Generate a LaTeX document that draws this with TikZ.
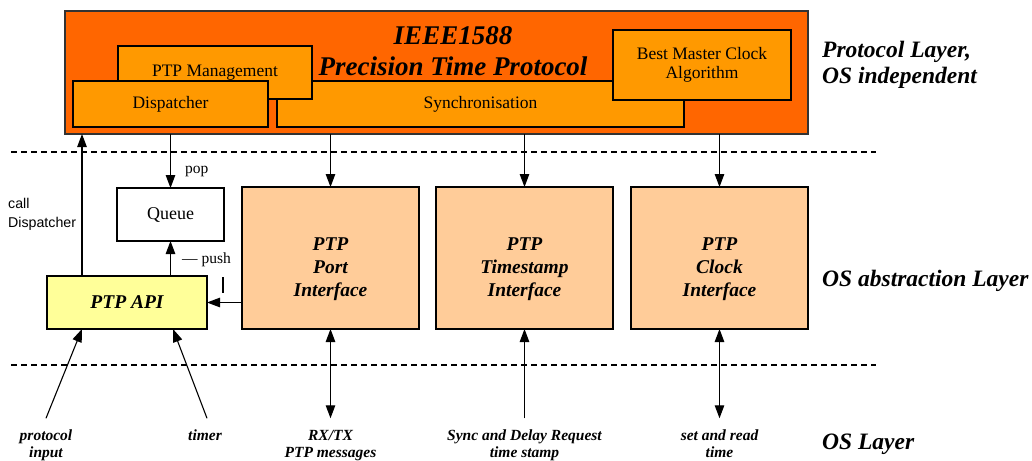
\documentclass[tikz,border=0pt]{standalone}
\usepackage{fontspec}
\setmainfont{Liberation Serif}
\newfontfamily\arialfont{Liberation Sans}
\usetikzlibrary{arrows.meta,calc}
\definecolor{orangeD}{HTML}{FF6600}
\definecolor{orangeL}{HTML}{FF9900}
\definecolor{peach}{HTML}{FFCC99}
\definecolor{lyellow}{HTML}{FFFF99}
\newcommand{\fsz}[2]{\fontsize{#1}{#2}\selectfont}
\begin{document}
\begin{tikzpicture}[x=1pt,y=-1pt,
  blk/.style={draw=black, line width=1.1pt, inner sep=0pt, outer sep=0pt},
  rtext/.style={font=\fsz{17.5}{19.5}, align=center},
  bitext/.style={font=\bfseries\itshape\fsz{19.5}{23}, align=center, inner sep=0pt},
  layer/.style={font=\bfseries\itshape\fsz{23.5}{26}, align=left, anchor=base west, inner sep=0pt},
  blabel/.style={font=\bfseries\itshape\fsz{15.5}{17}, align=center, anchor=base, inner sep=0pt, outer sep=0pt},
  small/.style={font=\fsz{15.5}{17}, anchor=base west, inner sep=0pt},
  arr/.style={-{Triangle[length=13pt,width=9.5pt]}, line width=1.1pt},
  dbl/.style={{Triangle[length=13pt,width=9.5pt]}-{Triangle[length=13pt,width=9.5pt]}, line width=1.1pt},
  plain/.style={line width=1.1pt},
  sep/.style={dashed, dash pattern=on 6pt off 4pt, line width=1.1pt}]
\useasboundingbox (0,0) rectangle (1032,460);
\fill[white] (0,0) rectangle (1032,460);

% protocol layer
\node[blk, draw=black!80, fill=orangeD, minimum width=743pt, minimum height=123pt] (top) at (436.5,72.5) {};
\node[blk, fill=orangeL, minimum width=407pt, minimum height=46pt, rtext] (sync) at (480.5,104) {Synchronisation};
\node[blk, fill=orangeL, minimum width=194pt, minimum height=53pt, rtext] (mgmt) at (215,72.5) {PTP Management};
\node[blk, fill=orangeL, minimum width=195pt, minimum height=46pt, rtext] (disp) at (170.5,104) {Dispatcher};
\node[blk, fill=orangeL, minimum width=178pt, minimum height=70pt, rtext] (bmc) at (702,65) {Best Master Clock\\Algorithm};
\node[font=\bfseries\itshape\fsz{27}{31}, align=center, anchor=base, inner sep=0pt] (title) at (453,75) {IEEE1588\\Precision Time Protocol};

% separators
\draw[sep] (11,152) -- (876,152);
\draw[sep] (11,365) -- (876,365);

% layer labels
\node[layer] (l1) at (822,83) {Protocol Layer,\\OS independent};
\node[layer] (l2) at (822,286) {OS abstraction Layer};
\node[layer] (l3) at (822,449) {OS Layer};

% OS abstraction layer
\node[blk, fill=white, minimum width=107pt, minimum height=53pt, font=\fsz{18}{20}] (queue) at (170.5,214.5) {Queue};
\node[blk, fill=lyellow, minimum width=160pt, minimum height=53pt, font=\bfseries\itshape\fsz{19.5}{23}] (api) at (127,302.5) {PTP API};
\node[blk, fill=peach, minimum width=177pt, minimum height=142pt] (port) at (330.5,258) {};
\node[blk, fill=peach, minimum width=177pt, minimum height=142pt] (ts) at (524.5,258) {};
\node[blk, fill=peach, minimum width=177pt, minimum height=142pt] (clk) at (719.5,258) {};
\node[bitext, anchor=base] (porttxt) at (330.5,296) {PTP\\Port\\Interface};
\node[bitext, anchor=base] (tstxt) at (524.5,296) {PTP\\Timestamp\\Interface};
\node[bitext, anchor=base] (clktxt) at (719.5,296) {PTP\\Clock\\Interface};

% small labels
\node[small] (pop) at (185,173) {pop};
\node[small] (push) at (182,263) {— push};
\node[font=\arialfont\fsz{14.2}{19}, align=left, anchor=base west, inner sep=0pt] (calld) at (8,227) {call\\Dispatcher};

% bottom labels
\node[blabel] (pin) at (46,457) {protocol\\input};
\node[blabel] (tmr) at (205,440) {timer};
\node[blabel] (rx) at (330.5,457) {RX/TX\\PTP messages};
\node[blabel] (sdr) at (524.5,457) {Sync and Delay Request\\time stamp};
\node[blabel] (sr) at (719.5,457) {set and read\\time};

% connectors
\coordinate (cd) at ([xshift=35pt]api.north west);
\coordinate (pi) at ([xshift=35pt]api.south west);
\coordinate (ti) at ([xshift=-34pt]api.south east);
\draw[arr] (cd) -- (cd |- top.south);
\draw[arr] (queue.north |- top.south) -- (queue.north);
\draw[arr] (api.north -| queue.south) -- (queue.south);
\draw[plain] (223,277) -- (223,293);
\draw[arr] (port.west |- api.east) -- (api.east);
\draw[arr] (port.north |- top.south) -- (port.north);
\draw[arr] (ts.north |- top.south) -- (ts.north);
\draw[arr] (clk.north |- top.south) -- (clk.north);

\coordinate (pinend) at ([yshift=11pt]pin.north);
\coordinate (tmrend) at ([yshift=11pt]tmr.north -| 207,0);
\draw[arr] (pinend) -- (pi);
\draw[arr] (tmrend) -- (ti);
\draw[dbl] (port.south) -- (port.south |- pinend);
\draw[arr] (ts.south |- pinend) -- (ts.south);
\draw[dbl] (clk.south) -- (clk.south |- pinend);
\end{tikzpicture}
\end{document}
